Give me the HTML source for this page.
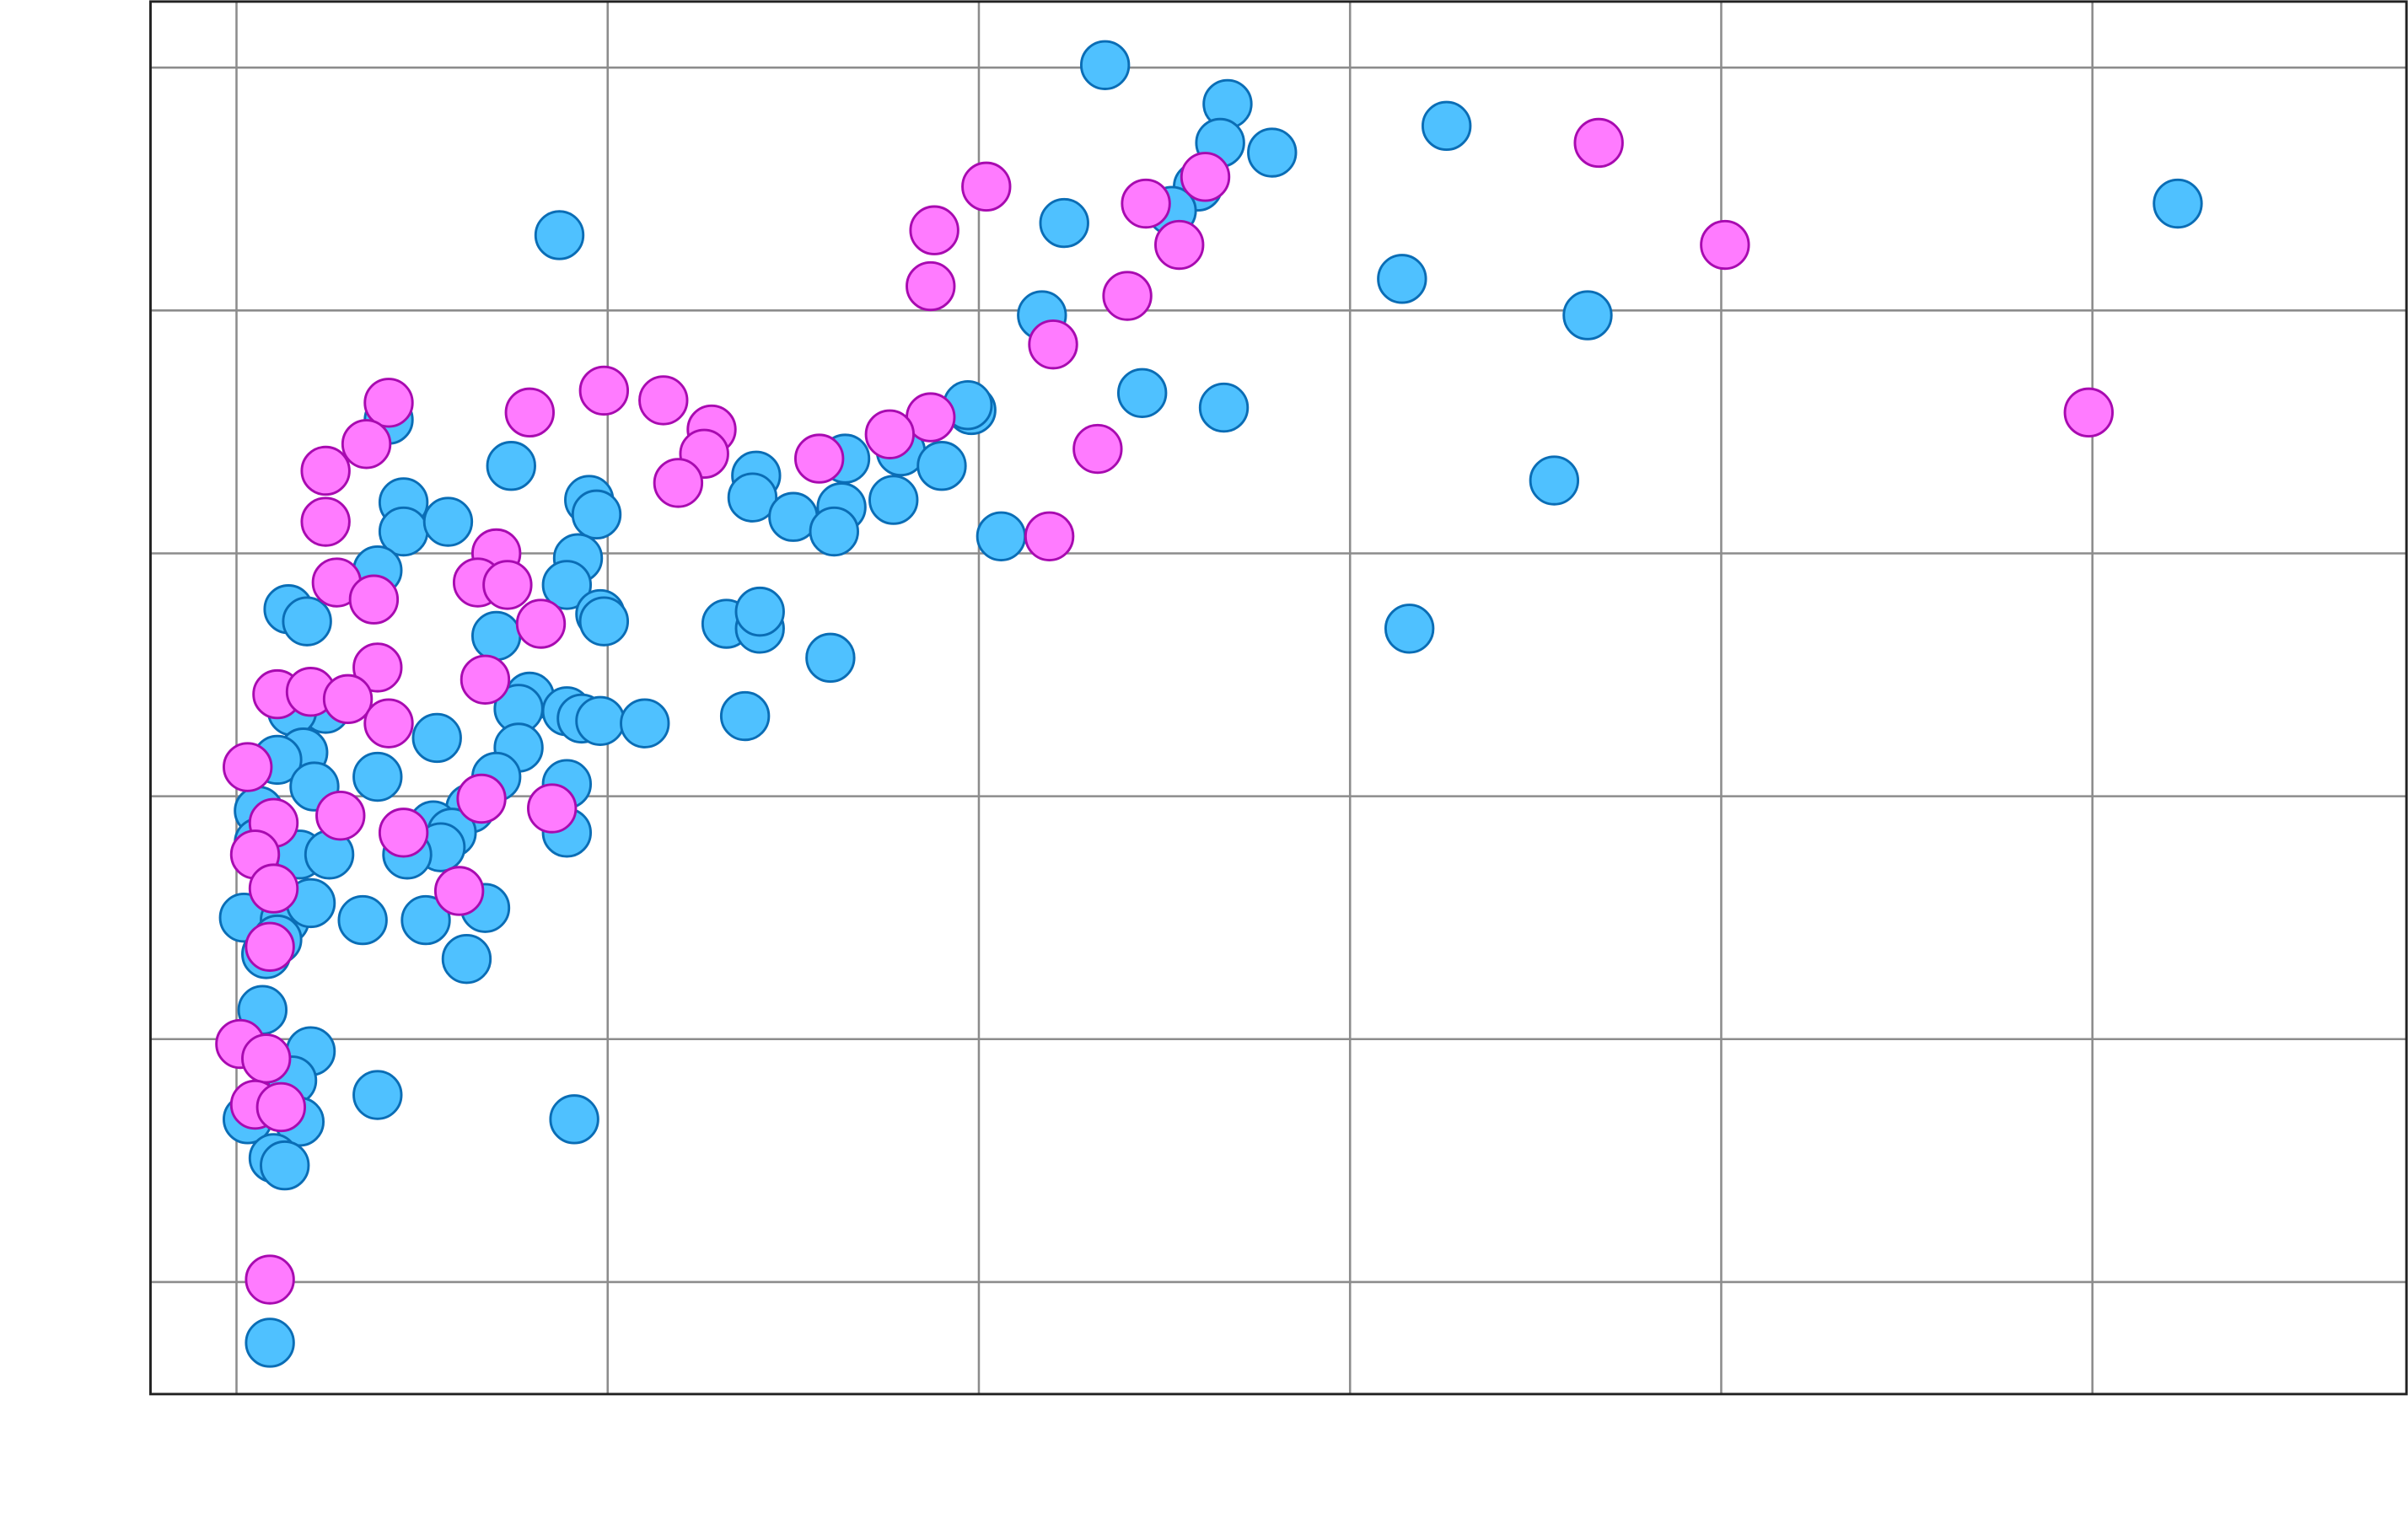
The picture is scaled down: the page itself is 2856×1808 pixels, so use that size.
<!DOCTYPE html>
<html><head><meta charset="utf-8"><title>Scatter</title>
<style>html,body{margin:0;padding:0;background:#fff;}svg{display:block;font-family:"Liberation Sans",sans-serif;}</style>
</head><body>
<svg id="chart" width="2856" height="1808" viewBox="0 0 1568 992.6" xmlns="http://www.w3.org/2000/svg">
<g id="grid"></g>
<g id="marks"></g>
<rect x="98" y="1" width="1469" height="907" fill="none" stroke="#222" stroke-width="1.6"/>
</svg>
<script>
const xTicks = [0,10,20,30,40,50];
const yTicks = [0,10,20,30,40,50];
const blueX = [23.4,26.7,26.5,27.9,25.9,25.2,32.6,52.3,8.7,22.3,31.4,21.7,36.4,24.4,26.6,19.8,19.7,4.1,7.4,16.4,17.9,19.0,35.5,14.0,13.9,15.0,16.3,17.7,16.1,20.6,4.5,4.5,5.7,9.5,9.7,9.2,8.9,3.8,1.4,1.9,9.8,9.9,7.0,13.2,14.1,14.1,16.0,31.6,7.9,7.6,8.9,9.3,9.8,11.0,13.7,7.6,5.4,2.4,1.5,1.8,1.1,2.1,3.8,7.0,8.9,8.9,6.3,5.3,5.8,5.5,4.6,0.6,0.6,1.7,2.5,0.2,1.3,2.0,3.4,5.1,6.7,1.1,0.8,6.2,0.7,2.0,1.5,0.3,1.7,3.8,9.1,1.0,1.3,0.9];
const blueY = [50.1,48.5,46.9,46.5,45.1,44.1,47.6,44.4,43.1,43.6,41.3,39.8,39.8,36.6,36.0,35.9,36.1,35.5,33.6,33.9,34.2,33.6,33.0,33.2,32.3,31.5,31.9,32.2,30.9,30.7,32.1,30.9,31.3,32.2,31.6,29.8,28.7,29.3,27.7,27.2,27.5,27.2,26.6,27.1,26.9,27.6,25.7,26.9,24.1,23.6,23.5,23.2,23.1,23.0,23.3,22.0,22.4,23.6,23.5,21.8,21.5,20.4,20.8,20.8,20.5,18.5,19.5,18.8,18.5,17.9,17.6,19.4,18.1,17.6,17.6,15.0,14.9,15.6,14.9,14.9,15.4,14.1,13.5,13.3,11.2,9.5,8.3,6.7,6.6,7.7,6.7,5.1,4.8,-2.5];
const pinkX = [36.7,20.2,18.8,18.7,24.5,25.4,26.1,40.1,24.0,22.0,49.9,23.2,21.9,18.7,17.6,15.7,12.8,12.6,11.9,11.5,9.9,7.9,4.1,3.5,2.4,2.4,2.7,3.7,7.0,6.5,7.3,8.2,3.8,6.7,1.1,2.0,3.0,4.1,0.3,6.6,8.5,2.8,1.0,4.5,0.5,1.0,6.0,0.9,0.1,0.8,0.5,1.2,0.9];
const pinkY = [46.9,45.1,43.3,41.0,44.4,42.7,45.5,42.7,40.6,38.6,35.8,34.3,30.7,35.6,34.9,33.9,35.1,34.1,32.9,36.3,36.7,35.8,36.2,34.5,33.4,31.3,28.8,28.1,30.0,28.8,28.7,27.1,25.3,24.8,24.2,24.3,24.0,23.0,21.2,19.9,19.5,19.2,18.9,18.5,17.6,16.2,16.1,13.8,9.8,9.2,7.3,7.2,0.1];

const NS = "http://www.w3.org/2000/svg";
function xs(v){ return 154 + v * 24.17; }
function ys(v){ return 835 - v * 15.82; }
const grid = document.getElementById('grid');
xTicks.forEach(t => {
  const l = document.createElementNS(NS,'line');
  
  
  l.setAttribute('x1', xs(t)); l.setAttribute('x2', xs(t));
  l.setAttribute('y1', 1); l.setAttribute('y2', 908);
  l.setAttribute('stroke', '#8c8c8c'); l.setAttribute('stroke-width', '1.4');
  grid.appendChild(l);
});
yTicks.forEach(t => {
  const l = document.createElementNS(NS,'line');
  
  
  l.setAttribute('x1', 98); l.setAttribute('x2', 1567);
  l.setAttribute('y1', ys(t)); l.setAttribute('y2', ys(t));
  l.setAttribute('stroke', '#8c8c8c'); l.setAttribute('stroke-width', '1.4');
  grid.appendChild(l);
});
const marks = document.getElementById('marks');
function draw(X, Y, fill, stroke, name){
  for (let i = 0; i < X.length; i++){
    const c = document.createElementNS(NS,'circle');
    
    
    c.setAttribute('cx', xs(X[i])); c.setAttribute('cy', ys(Y[i]));
    c.setAttribute('r', 15.5);
    c.setAttribute('fill', fill); c.setAttribute('stroke', stroke);
    c.setAttribute('stroke-width', '1.6');
    marks.appendChild(c);
  }
}
draw(blueX, blueY, '#4fc1ff', '#0a6db5', 'blue-point');
draw(pinkX, pinkY, '#ff7bff', '#a80ab0', 'pink-point');
</script>
</body></html>
